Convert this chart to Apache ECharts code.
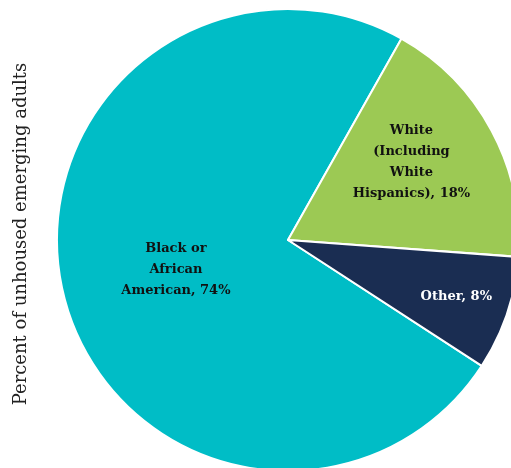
<!DOCTYPE html>
<html>
<head>
<meta charset="utf-8">
<script src="https://cdn.jsdelivr.net/npm/echarts@6/dist/echarts.min.js"></script>
<style>
  html, body { margin: 0; padding: 0; background: #fff; }
  #main { width: 511px; height: 468px; }
</style>
</head>
<body>
<div id="main"></div>
<script>
var categories = ['Black or\nAfrican\nAmerican', 'White\n(Including\nWhite\nHispanics)', 'Other'];
var values = [74, 18, 8];
var colors = ['#00BDC6', '#9CC954', '#1A2D52'];
var labelColors = ['#111', '#111', '#fff'];
var labelOffsets = [[3, 1], [19, -22], [56, 19]];

var chart = echarts.init(document.getElementById('main'));

var pieData = categories.map(function (name, i) {
  return {
    name: name,
    value: values[i],
    itemStyle: { color: colors[i] },
    label: { color: labelColors[i], offset: labelOffsets[i] }
  };
});

var option = {
  backgroundColor: '#fff',
  graphic: [{
    type: 'text',
    left: 12,
    top: 'middle',
    rotation: Math.PI / 2,
    style: {
      text: 'Percent of unhoused emerging adults',
      font: '18px "DejaVu Serif"',
      fill: '#222'
    }
  }],
  series: [{
    type: 'pie',
    center: [288, 240],
    radius: 231,
    startAngle: 327,
    clockwise: true,
    animation: false,
    itemStyle: { borderColor: '#fff', borderWidth: 2 },
    label: {
      position: 'inside',
      fontFamily: 'DejaVu Serif',
      fontWeight: 'bold',
      fontSize: 13,
      lineHeight: 21,
      align: 'center',
      formatter: function (p) { return p.name + ', ' + p.value + '%'; }
    },
    labelLine: { show: false },
    emphasis: { disabled: true },
    data: pieData
  }]
};

chart.setOption(option);
</script>
</body>
</html>
